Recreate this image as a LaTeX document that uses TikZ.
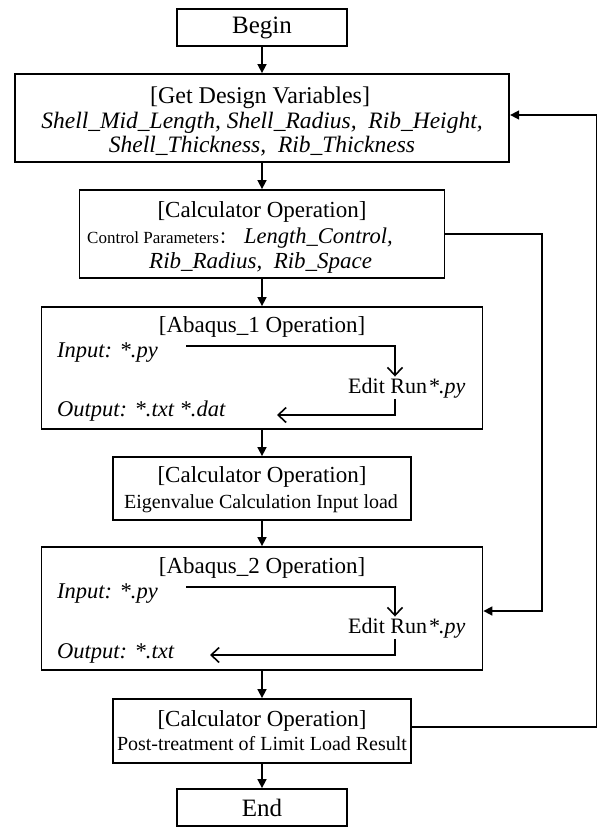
\documentclass[tikz,border=0pt]{standalone}
\usepackage{fontspec}
\setmainfont{Liberation Serif}
\newfontfamily\cjk{Noto Sans CJK SC}
\usetikzlibrary{arrows.meta}
\newcommand\fsz[1]{\fontsize{#1}{#1}\selectfont}
\begin{document}
\begin{tikzpicture}[x=1pt,y=-1pt,
  box/.style 2 args={draw,line width=1.8pt,minimum width=#1,minimum height=#2,inner sep=0pt},
  txt/.style={inner sep=1pt},
  hd/.style={txt,anchor=base,font=\fsz{23}},
  it/.style={txt,anchor=base west,font=\fsz{22.5}\itshape},
  sub/.style={txt,anchor=base,font=\fsz{20}},
  flow/.style={line width=1.6pt,-{Triangle[length=9pt,width=9pt]}},
  openarr/.style={line width=1.6pt,-{Straight Barb[length=8pt,width=15pt]}}
]
\useasboundingbox (0,0) rectangle (598,827);

% boxes
\node[box={170}{37},font=\fsz{25}] (begin) at (262,27.5) {Begin};
\node[box={494.5}{88}] (getdv) at (262,118) {};
\node[box={365}{88}] (calc1) at (262,234) {};
\node[box={441}{122}] (abq1) at (262,368) {};
\node[box={298}{63}] (calc2) at (262,488.5) {};
\node[box={441}{123}] (abq2) at (262,608.5) {};
\node[box={298}{64}] (calc3) at (262,731) {};
\node[box={170}{37},font=\fsz{25}] (endb) at (262,807.5) {End};

% texts: get design variables
\node[hd,font=\fsz{24}] (t1) at (260,103) {[Get Design Variables]};
\node[txt,anchor=base,font=\fsz{23.5}\itshape] (t2) at (262,128) {Shell\_Mid\_Length, Shell\_Radius,\ \ Rib\_Height,};
\node[txt,anchor=base,font=\fsz{23.5}\itshape] (t3) at (262,152) {Shell\_Thickness,\ \ Rib\_Thickness};

% calculator 1
\node[hd] (c1a) at (262,217) {[Calculator Operation]};
\node[txt,anchor=base west,font=\fsz{17}] (c1b) at (86,243) {Control Parameters{\cjk：}};
\node[it] (c1c) at (243,243) {Length\_Control,};
\node[it,font=\fsz{23}\itshape] (c1d) at (148,268) {Rib\_Radius,\ \ Rib\_Space};

% abaqus 1
\node[hd] (a1h) at (262,332) {[Abaqus\_1 Operation]};
\node[it] (a1in) at (56,357) {Input: *.py};
\node[txt,anchor=base west,font=\fsz{22}] (er1) at (347,393) {Edit Run\kern1pt\textit{*.py}};
\node[it] (a1out) at (56,416) {Output: *.txt *.dat};

% calculator 2
\node[hd] (c2a) at (262,482) {[Calculator Operation]};
\node[sub] (c2b) at (261,508) {Eigenvalue Calculation Input load};

% abaqus 2
\node[hd] (a2h) at (262,573) {[Abaqus\_2 Operation]};
\node[it] (a2in) at (56,598) {Input: *.py};
\node[txt,anchor=base west,font=\fsz{22}] (er2) at (347,633) {Edit Run\kern1pt\textit{*.py}};
\node[it] (a2out) at (56,658) {Output: *.txt};

% calculator 3
\node[hd] (c3a) at (262,726) {[Calculator Operation]};
\node[sub] (c3b) at (262,750) {Post-treatment of Limit Load Result};

% helper coordinates
\coordinate (vx) at (395,0);
\coordinate (r1) at (542,0);
\coordinate (r2) at (596.5,0);
\coordinate (i1) at (186,346);
\coordinate (o1) at (277,415);
\coordinate (i2) at (186,587);
\coordinate (o2) at (210,655);
\coordinate (ab2e) at ([yshift=-2.5pt]abq2.east);
\coordinate (gde) at ([yshift=3pt]getdv.east);
\coordinate (c3e) at ([yshift=4pt]calc3.east);

% main flow
\draw[flow] (begin) -- (getdv);
\draw[flow] (getdv) -- (calc1);
\draw[flow] (calc1) -- (abq1);
\draw[flow] (abq1) -- (calc2);
\draw[flow] (calc2) -- (abq2);
\draw[flow] (abq2) -- (calc3);
\draw[flow] (calc3) -- (endb);

% inner arrows
\draw[openarr] (i1) -| (er1.north -| vx);
\draw[openarr] (er1.south -| vx) |- (o1);
\draw[openarr] (i2) -| (er2.north -| vx);
\draw[openarr] (er2.south -| vx) |- (o2);

% feedback
\draw[flow] (calc1.east) -| (r1 |- ab2e) -- (ab2e);
\draw[flow] (c3e) -| (r2 |- gde) -- (gde);
\end{tikzpicture}
\end{document}
